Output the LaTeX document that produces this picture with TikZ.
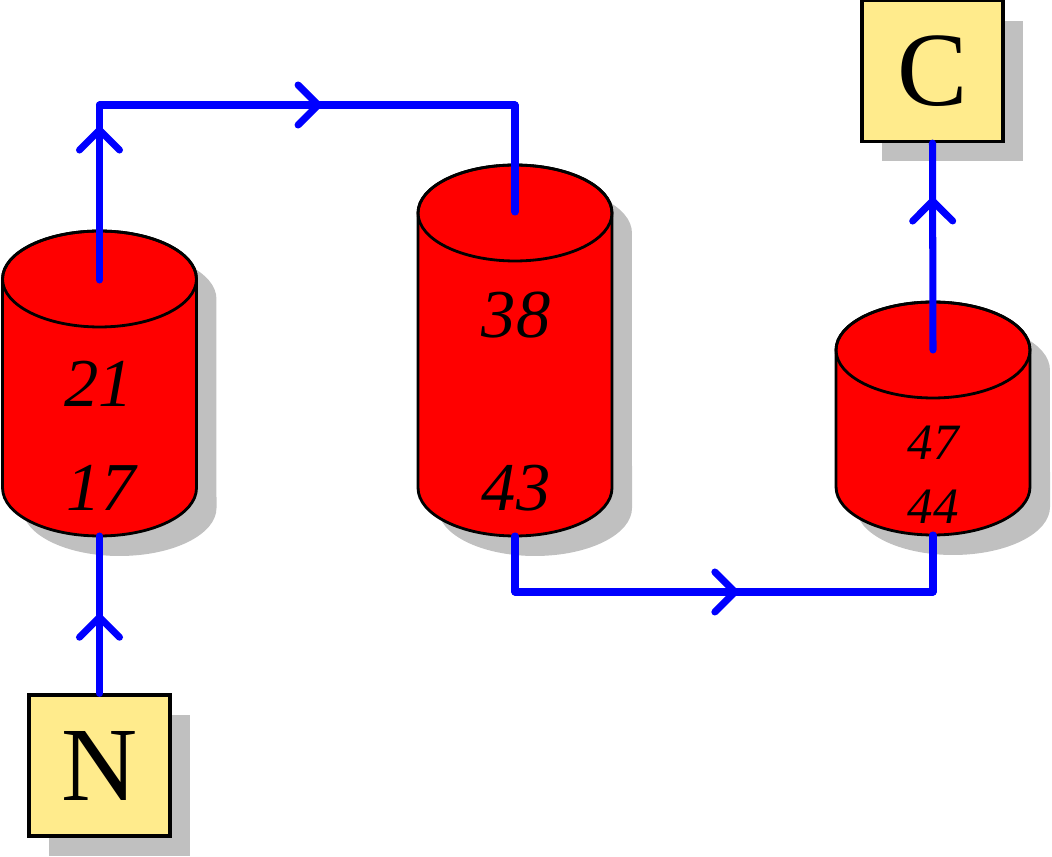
\documentclass[tikz,border=0pt]{standalone}
\usepackage{fontspec}
\setmainfont{Liberation Serif}
\usetikzlibrary{decorations.markings,shadows}
\definecolor{boxyellow}{RGB}{255,235,140}
\definecolor{shadowgray}{RGB}{192,192,192}
\begin{document}
\begin{tikzpicture}[x=0.02cm,y=0.02cm,
  cylbody/.style={fill=red, draw=black, line width=1.6pt},
  cylshadow/.style={fill=shadowgray},
  num/.style={font=\fontsize{39}{41}\selectfont\itshape, inner sep=0pt},
  numsmall/.style={font=\fontsize{29}{31}\selectfont\itshape, inner sep=0pt},
  termbox/.style={draw=black, line width=1.8pt, fill=boxyellow, minimum width=2.82cm, minimum height=2.82cm, inner sep=0pt, font=\fontsize{60}{62}\selectfont,
    drop shadow={shadow xshift=0.4cm, shadow yshift=-0.4cm, fill=shadowgray, opacity=1, draw=none}},
  flow/.style={draw=blue, line width=4pt, line cap=round, line join=round},
  mid/.style={postaction={decorate}, decoration={markings, mark=at position #1 with {\draw[blue, line width=4pt, line cap=round, line join=round] (-0.4cm,0.4cm) -- (0cm,0cm) -- (-0.4cm,-0.4cm);}}}
]
\useasboundingbox (0,0) rectangle (1052,-857);

% cylinder shadows
\foreach \cx/\yt/\yb in {99.5/279/488, 515/213/488, 933/350/487} {
  \fill[cylshadow, shift={(20,-20)}] ({\cx-97},{-\yb}) -- ({\cx-97},{-\yt})
    arc[start angle=180,end angle=0,x radius=1.94cm,y radius=0.96cm]
    -- ({\cx+97},{-\yb})
    arc[start angle=0,end angle=-180,x radius=1.94cm,y radius=0.96cm] -- cycle;
}
% cylinder bodies
\foreach \cx/\yt/\yb in {99.5/279/488, 515/213/488, 933/350/487} {
  \draw[cylbody] ({\cx-97},{-\yb}) -- ({\cx-97},{-\yt})
    arc[start angle=180,end angle=0,x radius=1.94cm,y radius=0.96cm]
    -- ({\cx+97},{-\yb})
    arc[start angle=0,end angle=-180,x radius=1.94cm,y radius=0.96cm] -- cycle;
  \draw[line width=1.6pt] (\cx,{-\yt}) ellipse[x radius=1.94cm, y radius=0.96cm];
}

% cylinder labels
\node[num] (n21) at (99,-384) {21};
\node[num] (n17) at (101,-488) {17};
\node[num] (n38) at (516,-315) {38};
\node[num] (n43) at (516,-488) {43};
\node[numsmall] (n47) at (933,-443) {47};
\node[numsmall] (n44) at (933,-507) {44};

% terminal boxes
\node[termbox] (N) at (99.5,-765.5) {N};
\node[termbox] (C) at (932.5,-71) {C};

% connector points
\coordinate (c1top) at (99.5,-280);
\coordinate (c1bot) at (99.5,-536);
\coordinate (c2top) at (515,-212);
\coordinate (c2bot) at (515,-536);
\coordinate (c3top) at (933,-350);
\coordinate (c3bot) at (933,-535);
\coordinate (k1) at (99.5,-105);
\coordinate (k2) at (515,-105);
\coordinate (k3) at (515,-592);
\coordinate (k4) at (933,-592);

% connectors
\draw[flow, mid=0.484] (N.north) -- (c1bot);
\draw[flow, mid=0.857] (c1top) -- (k1);
\draw[flow, mid=0.526] (k1) -- (k2);
\draw[flow] (k2) -- (c2top);
\draw[flow] (c2bot) -- (k3);
\draw[flow, mid=0.526] (k3) -- (k4);
\draw[flow] (k4) -- (c3bot);
\draw[flow, mid=0.72] (c3top) -- (C.south);
\end{tikzpicture}
\end{document}
